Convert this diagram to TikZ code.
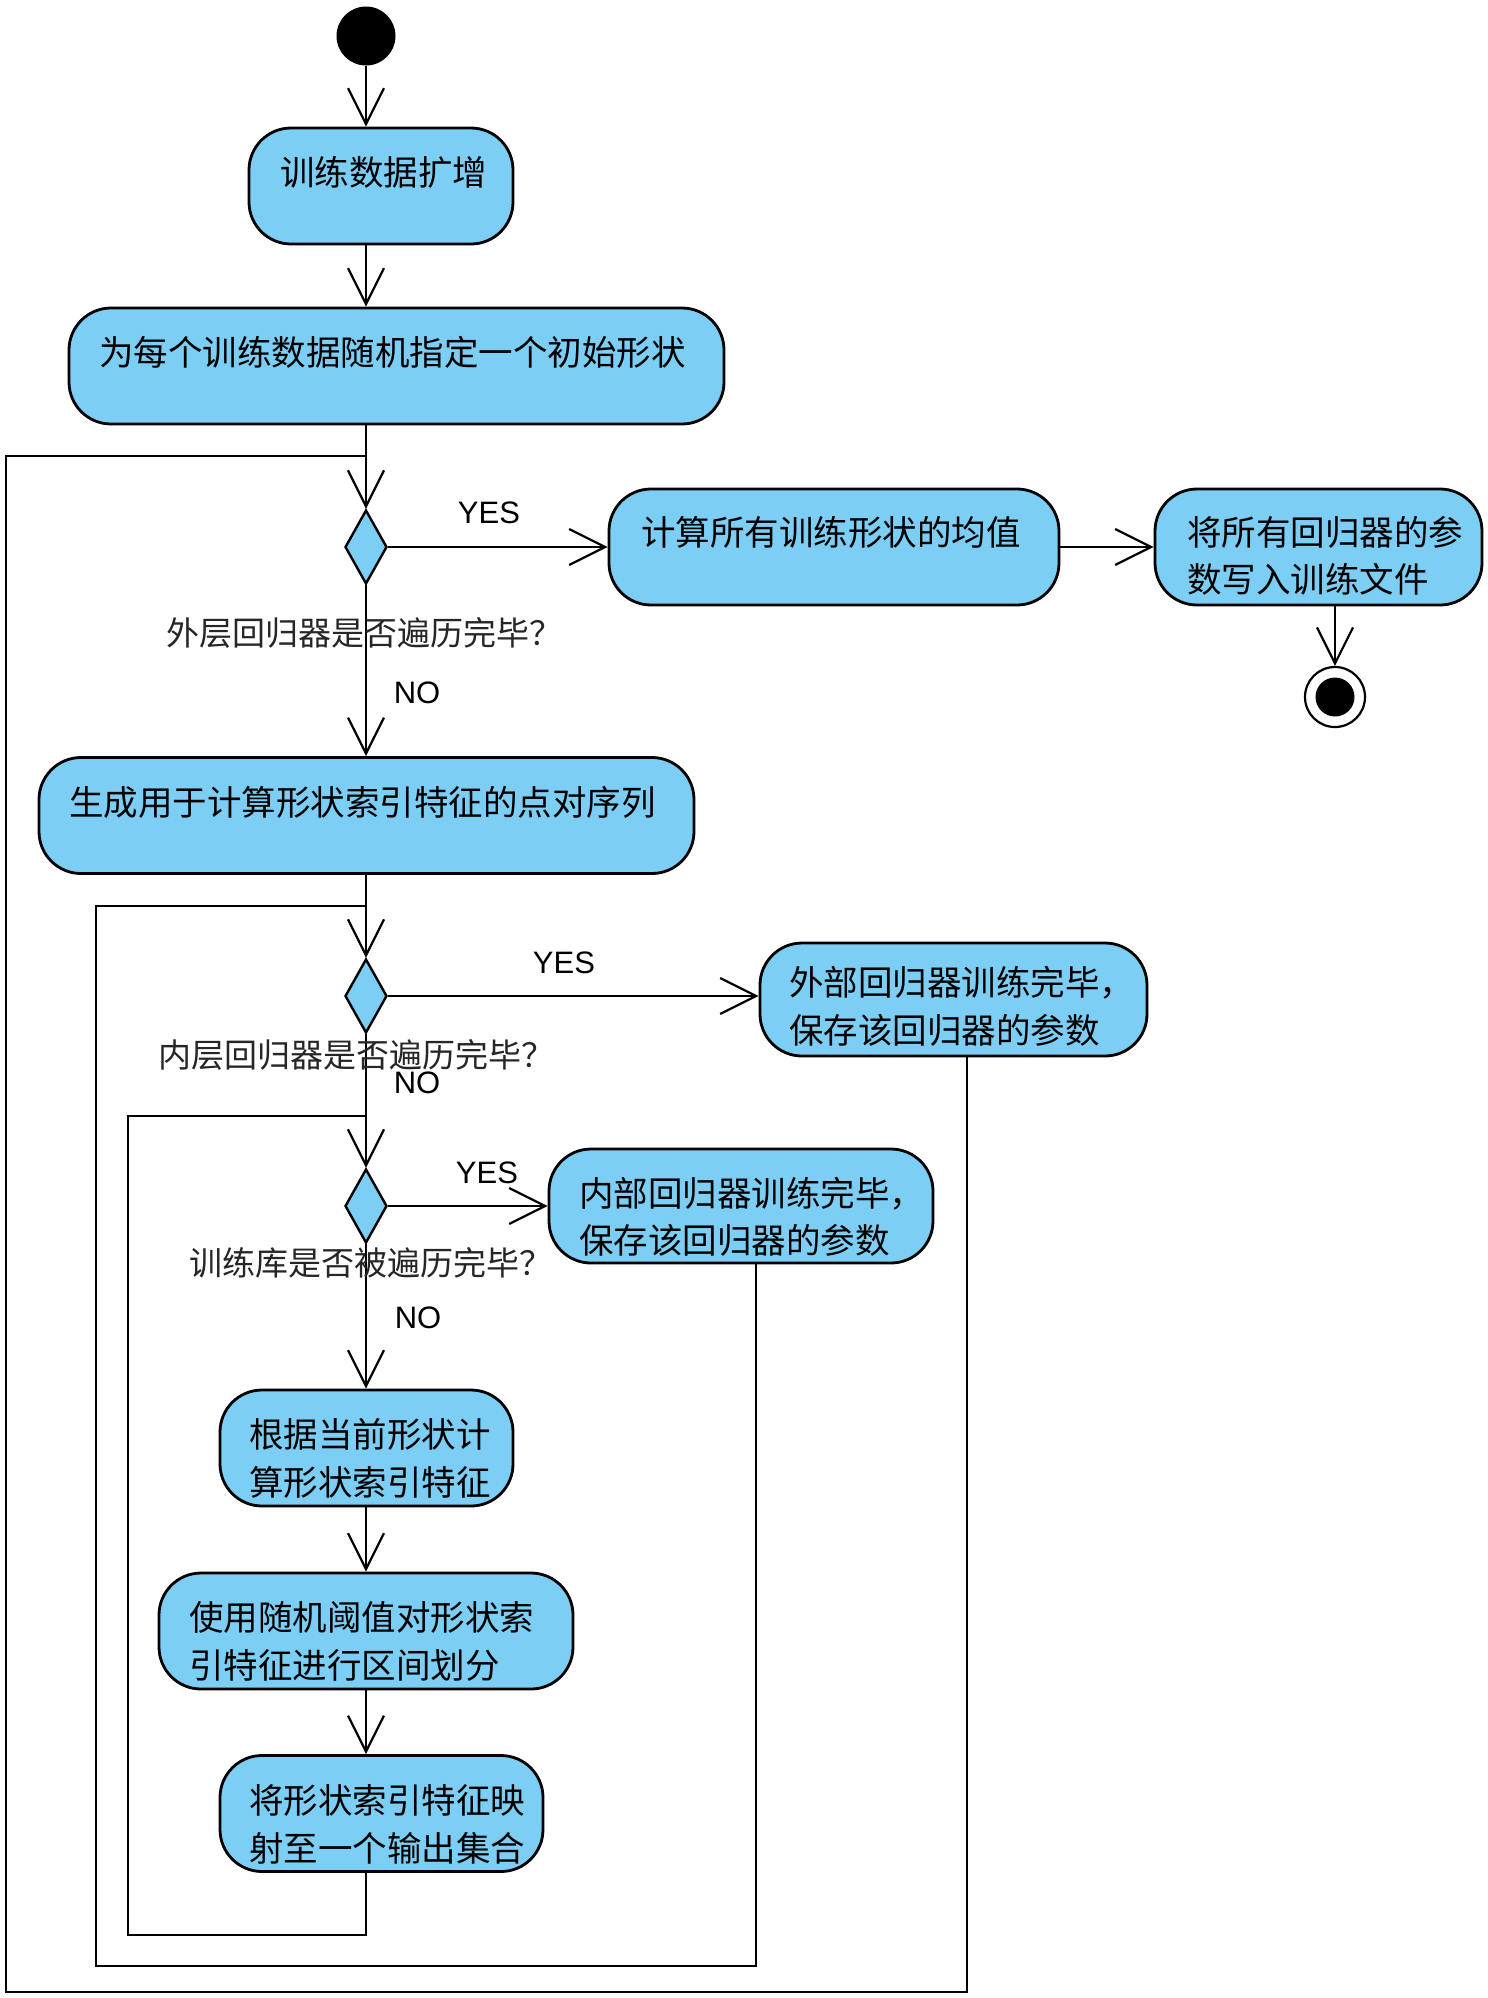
\documentclass[tikz,border=0pt]{standalone}
\usepackage{fontspec}
\setmainfont{Liberation Sans}
\newfontfamily\cjk{Noto Sans CJK SC}
\usetikzlibrary{shapes.geometric,arrows.meta,calc}
\definecolor{boxblue}{RGB}{125,206,244}
\begin{document}
\begin{tikzpicture}[x=0.5pt,y=-0.5pt,
  act/.style={draw=black, line width=1.4pt, fill=boxblue, rounded corners=21pt, inner sep=0pt, minimum height=58pt},
  dec/.style={diamond, draw=black, line width=1.2pt, fill=boxblue, inner sep=0pt, minimum width=21pt, minimum height=37pt},
  btxt/.style={font=\cjk\fontsize{17.25}{20}\selectfont, inner sep=0pt, text height=15.2pt, text depth=2.1pt, anchor=west},
  ltxt/.style={font=\cjk\fontsize{16.5}{20}\selectfont, text=black!85, inner sep=0pt, text height=14.5pt, text depth=2pt, anchor=west},
  yn/.style={font=\fontsize{15.5}{18}\selectfont, inner sep=0pt},
  arr/.style={line width=1.1pt, -{Straight Barb[length=18pt,width=18pt,line width=1.1pt]}},
  ln/.style={line width=1.1pt, line join=miter},
]
\useasboundingbox (0,0) rectangle (1488,1998);
% start and end
\node[circle, fill=black, inner sep=0pt, minimum size=29.5pt] (start) at (366,36) {};
\node[circle, draw=black, line width=1.1pt, fill=white, inner sep=0pt, minimum size=30pt] (fin) at (1335,697) {};
\node[circle, fill=black, inner sep=0pt, minimum size=19.5pt] (finin) at (1335,697) {};
% activity boxes
\node[act, minimum width=132pt] (b1) at (381,186) {};
\node[act, minimum width=327.5pt] (b2) at (396.5,366) {};
\node[act, minimum width=225pt] (b3) at (834,547) {};
\node[act, minimum width=163.5pt] (b4) at (1318.5,547) {};
\node[act, minimum width=327.5pt] (b5) at (366.5,815.5) {};
\node[act, minimum width=193.5pt, minimum height=56.5pt] (b6) at (953.5,999.5) {};
\node[act, minimum width=192pt, minimum height=57pt] (b7) at (741,1206) {};
\node[act, minimum width=146.5pt] (b8) at (366.5,1448) {};
\node[act, minimum width=207pt] (b9) at (366,1631) {};
\node[act, minimum width=161.5pt] (b10) at (381.5,1813.5) {};
% box texts
\node[btxt] (t1) at (280,172) {训练数据扩增};
\node[btxt] (t2) at (99,352) {为每个训练数据随机指定一个初始形状};
\node[btxt] (t3) at (641,532) {计算所有训练形状的均值};
\node[btxt] (t4a) at (1187,532) {将所有回归器的参};
\node[btxt] (t4b) at (1187,579) {数写入训练文件};
\node[btxt] (t5) at (69,802) {生成用于计算形状索引特征的点对序列};
\node[btxt] (t6a) at (789,982) {外部回归器训练完毕，};
\node[btxt] (t6b) at (789,1030) {保存该回归器的参数};
\node[btxt] (t7a) at (579,1193) {内部回归器训练完毕，};
\node[btxt] (t7b) at (579,1240) {保存该回归器的参数};
\node[btxt] (t8a) at (249,1434) {根据当前形状计};
\node[btxt] (t8b) at (249,1482) {算形状索引特征};
\node[btxt] (t9a) at (189,1617) {使用随机阈值对形状索};
\node[btxt] (t9b) at (189,1665) {引特征进行区间划分};
\node[btxt] (t10a) at (249,1800) {将形状索引特征映};
\node[btxt] (t10b) at (249,1848) {射至一个输出集合};
% decisions
\node[dec] (d1) at (366,547) {};
\node[dec] (d2) at (366,996) {};
\node[dec] (d3) at (366,1206) {};
% loop coordinates
\coordinate (j1) at (366,456);
\coordinate (j2) at (366,906);
\coordinate (j3) at (366,1116);
\coordinate (o1) at (967,1992);
\coordinate (o2) at (6,1992);
\coordinate (m1) at (756,1966);
\coordinate (m2) at (96,1966);
\coordinate (i1) at (366,1935);
\coordinate (i2) at (128,1935);
% connectors
\draw[arr] (start) -- (start |- b1.north);
\draw[arr] (b1.south -| start) -- (b2.north -| start);
\draw[arr] (b2.south -| d1) -- (d1.north);
\draw[arr] (d1.east) -- (d1.east -| b3.west);
\draw[arr] (b3.east) -- (b4.west);
\draw[arr] (b4.south -| fin) -- (fin.north);
\draw[arr] (d1.south) -- (d1.south |- b5.north);
\draw[arr] (b5.south -| d2) -- (d2.north);
\draw[arr] (d2.east) -- (d2.east -| b6.west);
\draw[arr] (d2.south) -- (d3.north);
\draw[arr] (d3.east) -- (d3.east -| b7.west);
\draw[arr] (d3.south) -- (d3.south |- b8.north);
\draw[arr] (b8.south -| d3) -- (b9.north -| d3);
\draw[arr] (b9.south -| d3) -- (b10.north -| d3);
\draw[ln] (b6.south -| o1) -- (o1) -- (o2) |- (j1);
\draw[ln] (b7.south -| m1) -- (m1) -- (m2) |- (j2);
\draw[ln] (b10.south -| i1) -- (i1) -- (i2) |- (j3);
% labels
\node[ltxt] (l1) at (166,633) {外层回归器是否遍历完毕？};
\node[ltxt] (l2) at (158,1055) {内层回归器是否遍历完毕？};
\node[ltxt] (l3) at (189,1263) {训练库是否被遍历完毕？};
\node[yn] (y1) at (489,513) {YES};
\node[yn] (n1) at (417,693) {NO};
\node[yn] (y2) at (564,963) {YES};
\node[yn] (n2) at (417,1083) {NO};
\node[yn] (y3) at (487,1173) {YES};
\node[yn] (n3) at (418,1318) {NO};
\end{tikzpicture}
\end{document}
